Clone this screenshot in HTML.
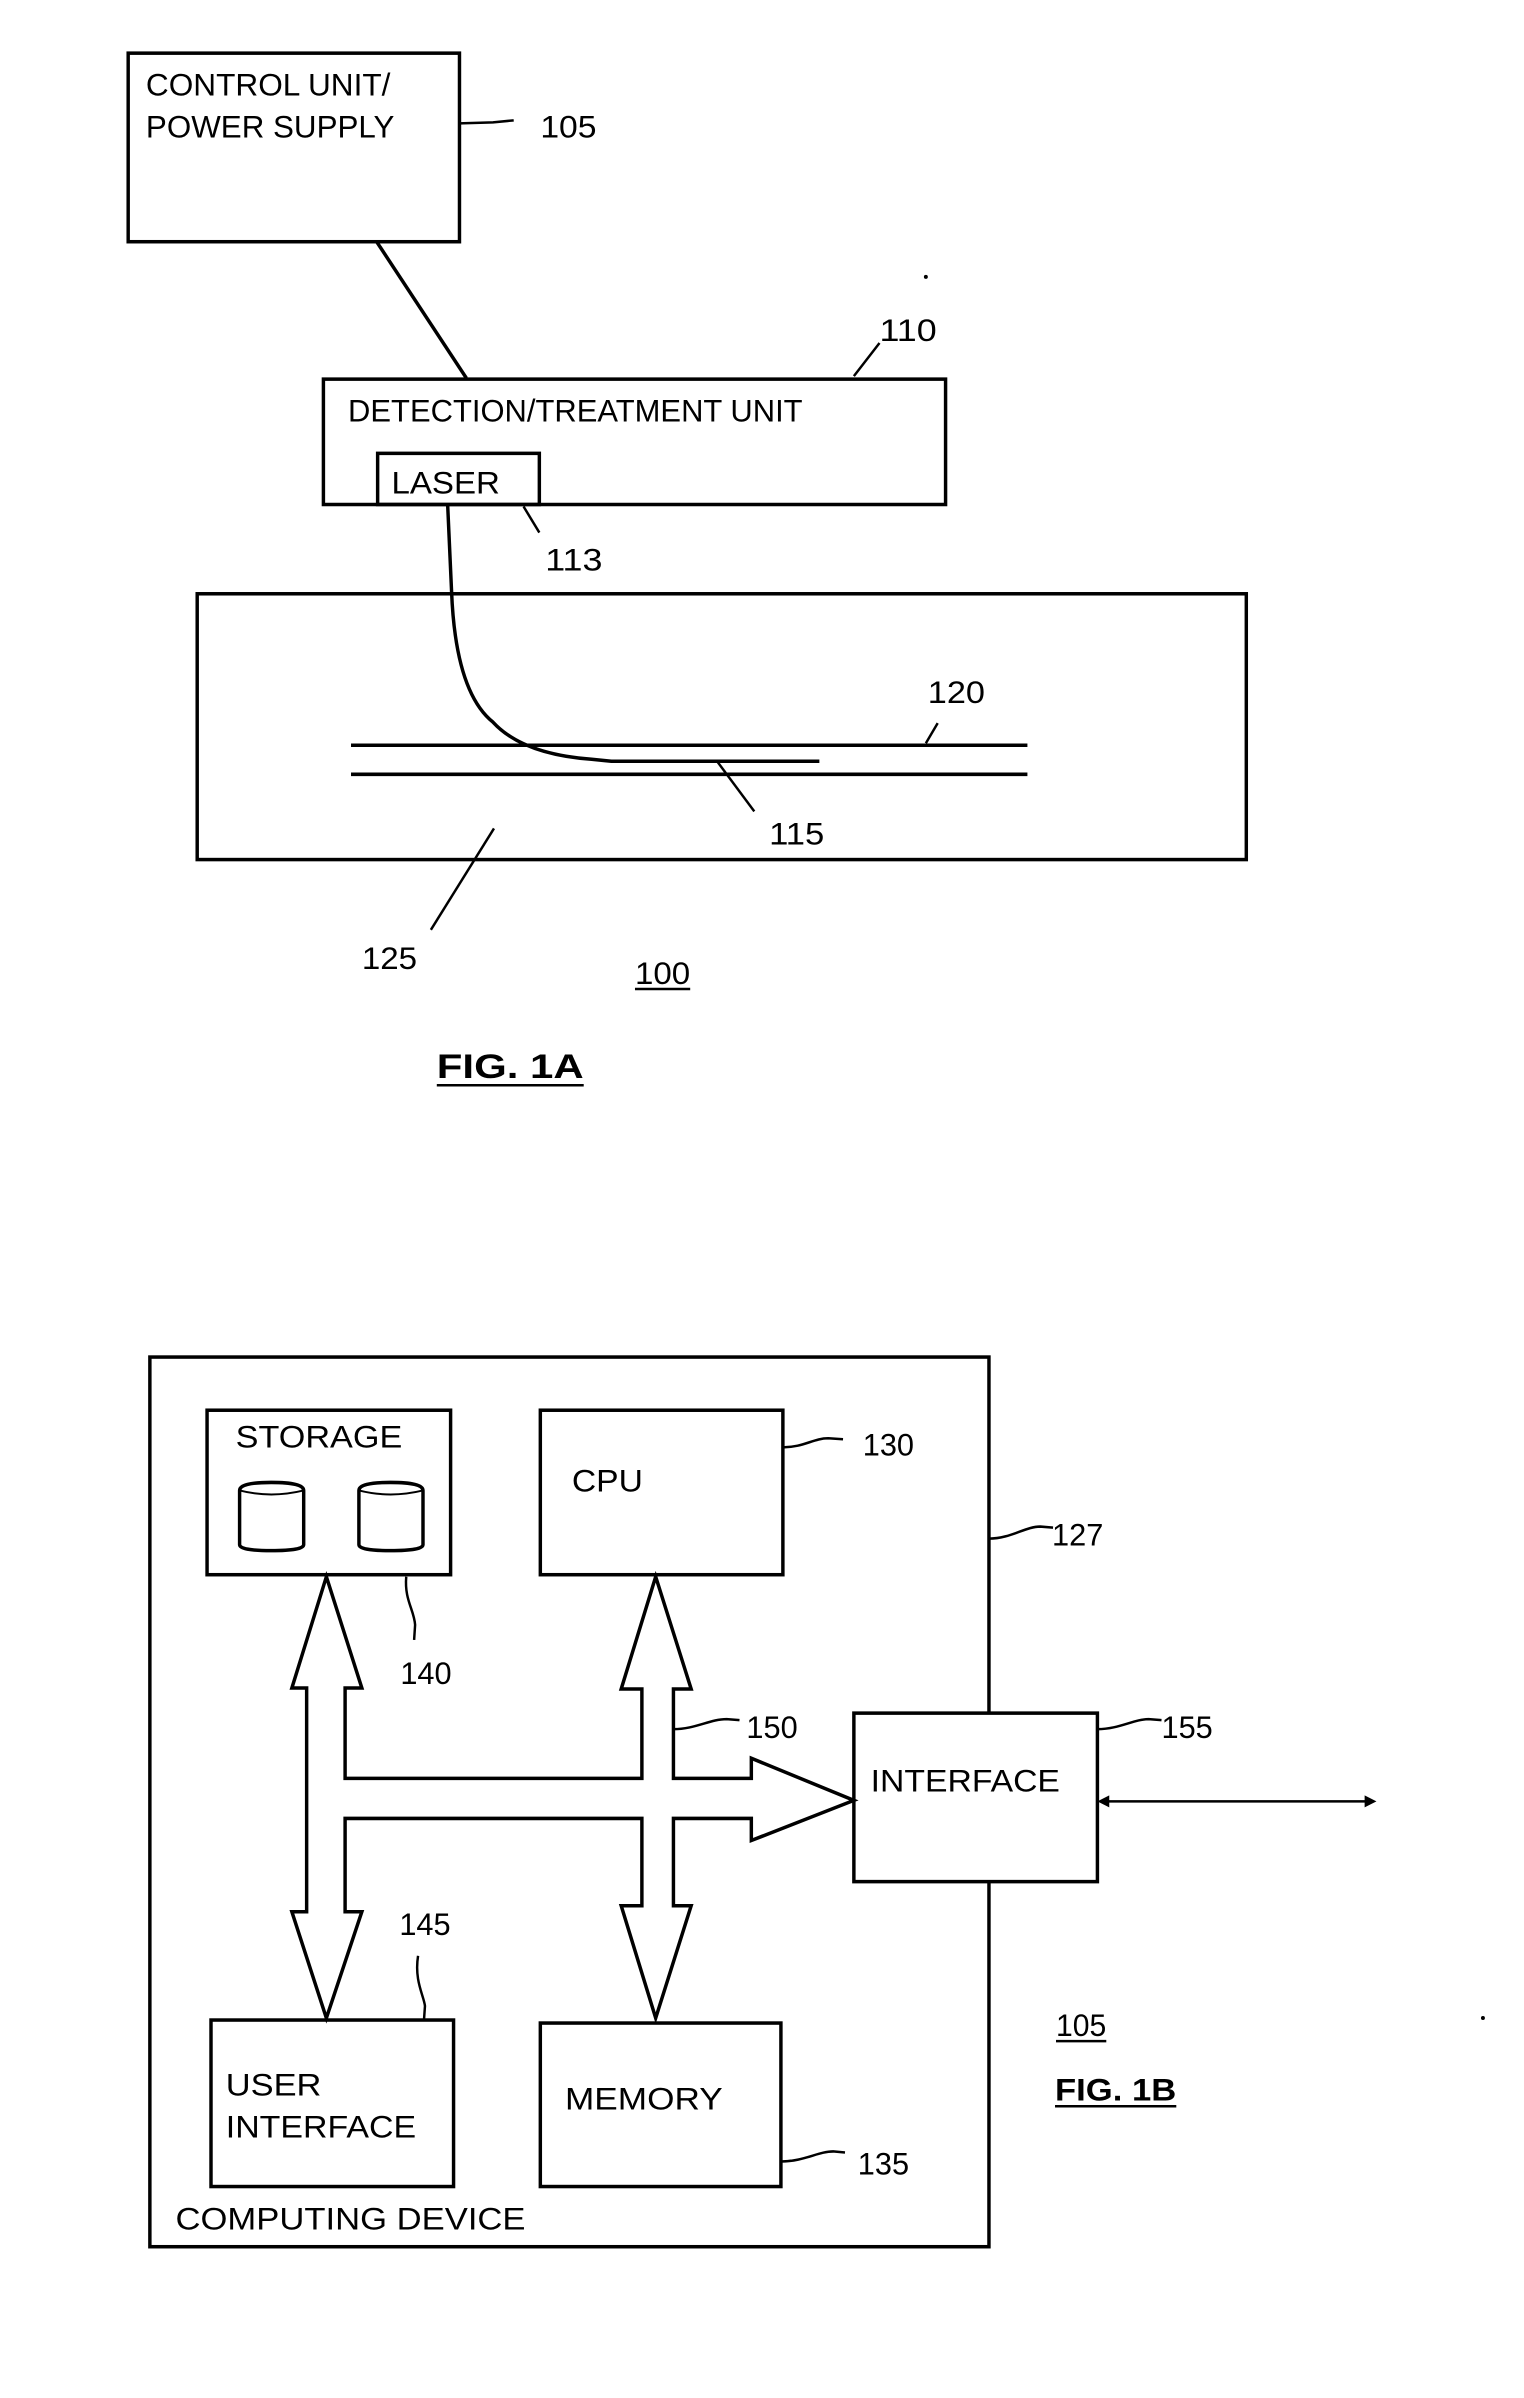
<!DOCTYPE html>
<html><head><meta charset="utf-8"><style>
html,body{margin:0;padding:0;background:#fff;}
svg{display:block;}
text{font-family:"Liberation Sans",sans-serif;fill:#000;}
</style></head><body>
<svg width="1524" height="2398" viewBox="0 0 1524 2398" xmlns="http://www.w3.org/2000/svg">
<g transform="scale(0.986,1.003)">
<g fill="none" stroke="#000" stroke-width="3.5" stroke-linejoin="miter">
<rect x="130" y="53" width="336" height="188"/>
<line x1="382" y1="241" x2="473" y2="377"/>
<rect x="328" y="378" width="631" height="125"/>
<rect x="383" y="452" width="164" height="51"/>
<rect x="200" y="592" width="1064" height="265"/>
<line x1="356" y1="743" x2="1042" y2="743"/>
<line x1="356" y1="772" x2="1042" y2="772"/>
<path d="M454 503 L458 590 Q462 690 500 720 Q530 752 600 757 L620 759 L831 759"/>
<path d="M466 123 L500 122 L521 120" stroke-width="2.5"/>
<line x1="866" y1="375" x2="892" y2="342" stroke-width="2.5"/>
<line x1="531" y1="505" x2="547" y2="531" stroke-width="2.5"/>
<line x1="939" y1="741" x2="951" y2="721" stroke-width="2.5"/>
<line x1="728" y1="760" x2="765" y2="809" stroke-width="2.5"/>
<line x1="501" y1="826" x2="437" y2="927" stroke-width="2.5"/>
<rect x="152" y="1353" width="851" height="887"/>
<rect x="210" y="1406" width="247" height="164"/>
<rect x="548" y="1406" width="246" height="164"/>
<rect x="214" y="2014" width="246" height="166"/>
<rect x="548" y="2017" width="244" height="163"/>
<rect x="866" y="1708" width="247" height="168" fill="#fff"/>
<path d="M243 1486 Q243 1478 275 1478 Q308 1478 308 1486 L308 1540 Q308 1546 275 1546 Q243 1546 243 1540 Z"/>
<path d="M243 1486 Q275 1494 308 1486" stroke-width="2"/>
<path d="M364 1486 Q364 1478 396 1478 Q429 1478 429 1486 L429 1540 Q429 1546 396 1546 Q364 1546 364 1540 Z"/>
<path d="M364 1486 Q396 1494 429 1486" stroke-width="2"/>
<polygon points="331,1572 367,1683 350,1683 350,1773 651,1773 651,1684 630,1684 665,1572 701,1684 683,1684 683,1773 762,1773 762,1753 866,1795 762,1835 762,1813 683,1813 683,1900 701,1900 665,2012 630,1900 651,1900 651,1813 350,1813 350,1906 367,1906 331,2012 296,1906 311,1906 311,1683 296,1683"/>
<line x1="1120" y1="1796" x2="1388" y2="1796" stroke-width="2.5"/>
<path d="M794 1443 C815 1443 825 1434 840 1434 L855 1435" stroke-width="2.5"/>
<path d="M1003 1534 C1025 1534 1040 1522 1055 1522 L1068 1523" stroke-width="2.5"/>
<path d="M683 1724 C705 1724 720 1714 737 1714 L750 1715" stroke-width="2.5"/>
<path d="M1113 1724 C1135 1724 1150 1714 1165 1714 L1178 1715" stroke-width="2.5"/>
<path d="M412 1572 C410 1595 420 1605 421 1620 L420 1635" stroke-width="2.5"/>
<path d="M424 1950 C420 1975 430 1990 431 2000 L430 2014" stroke-width="2.5"/>
<path d="M792 2155 C815 2155 830 2145 845 2145 L857 2146" stroke-width="2.5"/>
</g>
<g fill="#000">
<polygon points="1113,1796 1125,1790 1125,1802"/>
<polygon points="1396,1796 1384,1790 1384,1802"/>
<circle cx="939" cy="276" r="2"/>
<circle cx="1504" cy="2012" r="2"/>
</g>
<g font-size="31">
<text x="148" y="95" textLength="248" lengthAdjust="spacingAndGlyphs">CONTROL UNIT/</text>
<text x="148" y="137" textLength="252" lengthAdjust="spacingAndGlyphs">POWER SUPPLY</text>
<text x="548" y="137" textLength="57" lengthAdjust="spacingAndGlyphs">105</text>
<text x="892" y="340" textLength="58" lengthAdjust="spacingAndGlyphs">110</text>
<text x="353" y="420" textLength="461" lengthAdjust="spacingAndGlyphs">DETECTION/TREATMENT UNIT</text>
<text x="397" y="492" textLength="110" lengthAdjust="spacingAndGlyphs">LASER</text>
<text x="553" y="569" textLength="58" lengthAdjust="spacingAndGlyphs">113</text>
<text x="941" y="701" textLength="58" lengthAdjust="spacingAndGlyphs">120</text>
<text x="780" y="842" textLength="56" lengthAdjust="spacingAndGlyphs">115</text>
<text x="367" y="966" textLength="56" lengthAdjust="spacingAndGlyphs">125</text>
<text x="644" y="981" textLength="56" lengthAdjust="spacingAndGlyphs">100</text>
<text x="239" y="1443" textLength="169" lengthAdjust="spacingAndGlyphs">STORAGE</text>
<text x="580" y="1487" textLength="72" lengthAdjust="spacingAndGlyphs">CPU</text>
<text x="875" y="1451" textLength="52" lengthAdjust="spacingAndGlyphs">130</text>
<text x="1067" y="1541" textLength="52" lengthAdjust="spacingAndGlyphs">127</text>
<text x="406" y="1679" textLength="52" lengthAdjust="spacingAndGlyphs">140</text>
<text x="757" y="1733" textLength="52" lengthAdjust="spacingAndGlyphs">150</text>
<text x="1178" y="1733" textLength="52" lengthAdjust="spacingAndGlyphs">155</text>
<text x="883" y="1786" textLength="192" lengthAdjust="spacingAndGlyphs">INTERFACE</text>
<text x="405" y="1929" textLength="52" lengthAdjust="spacingAndGlyphs">145</text>
<text x="1071" y="2030" textLength="51" lengthAdjust="spacingAndGlyphs">105</text>
<text x="229" y="2089" textLength="97" lengthAdjust="spacingAndGlyphs">USER</text>
<text x="229" y="2131" textLength="193" lengthAdjust="spacingAndGlyphs">INTERFACE</text>
<text x="573" y="2103" textLength="160" lengthAdjust="spacingAndGlyphs">MEMORY</text>
<text x="870" y="2168" textLength="52" lengthAdjust="spacingAndGlyphs">135</text>
<text x="178" y="2223" textLength="355" lengthAdjust="spacingAndGlyphs">COMPUTING DEVICE</text>
</g>
<g stroke="#000" stroke-width="2.5">
<line x1="644" y1="986" x2="700" y2="986"/>
<line x1="1071" y1="2035" x2="1122" y2="2035"/>
<line x1="443" y1="1082" x2="592" y2="1082"/>
<line x1="1070" y1="2100" x2="1193" y2="2100"/>
</g>
<text x="443" y="1075" font-size="34" font-weight="bold" textLength="149" lengthAdjust="spacingAndGlyphs">FIG. 1A</text>
<text x="1070" y="2094" font-size="31" font-weight="bold" textLength="123" lengthAdjust="spacingAndGlyphs">FIG. 1B</text>
</g>
</svg>
</body></html>
